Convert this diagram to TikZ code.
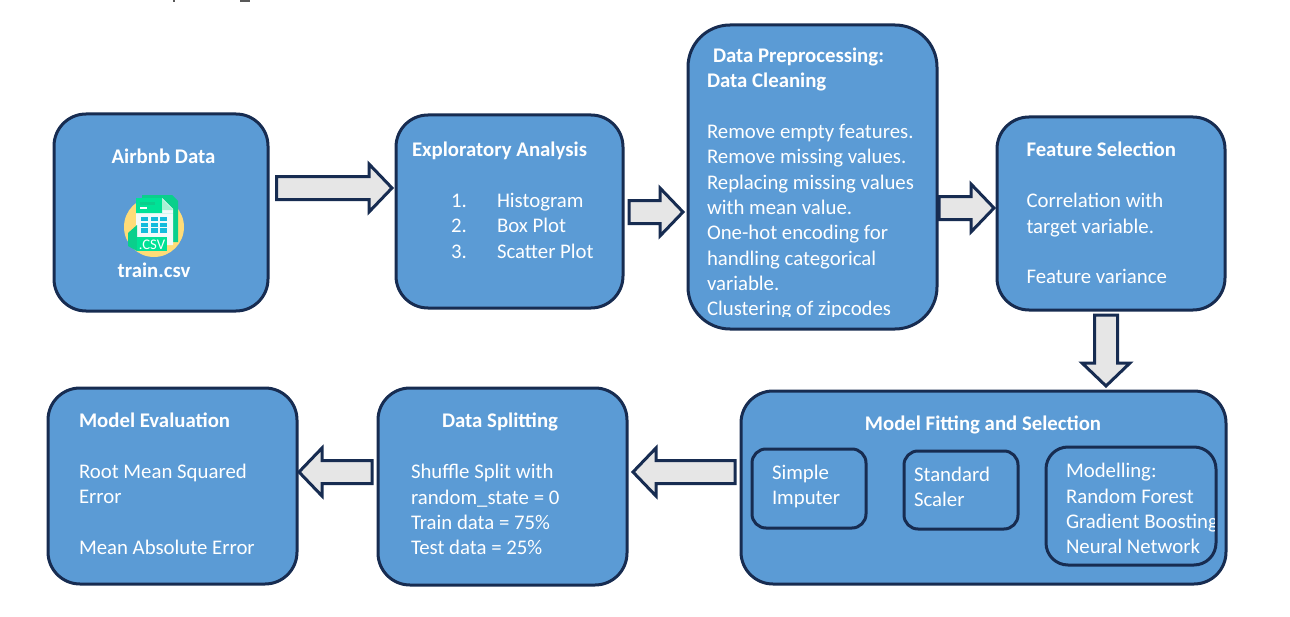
\documentclass[tikz,border=0pt]{standalone}
\usepackage{fontspec}
\setmainfont{Carlito}
\usetikzlibrary{calc}
\def\px{0.75pt}
\definecolor{boxblue}{HTML}{5B9BD5}
\definecolor{navy}{HTML}{172C51}
\definecolor{arrowgray}{HTML}{E6E6E6}
\definecolor{iconyellow}{HTML}{FFDC78}
\definecolor{icongreen}{HTML}{00E296}
\definecolor{icongreenb}{HTML}{0ACF8C}
\definecolor{iconfold}{HTML}{A8F2D4}
\definecolor{iconcell}{HTML}{14BCDC}
\definecolor{iconpage}{HTML}{F2FAFA}
\tikzset{
  flowbox/.style={draw=navy,fill=boxblue,line width=3*\px,inner sep=0pt,outer sep=0pt},
  txt/.style={text=white,inner sep=0pt,outer sep=0pt,anchor=base west,align=left,yshift=-0.7*\px,
    font=\fontsize{15.6pt}{19pt}\selectfont},
  hd/.style={txt,font=\fontsize{15.6pt}{19pt}\selectfont\bfseries},
  hdc/.style={hd,anchor=base,align=center},
  blockarrow/.style={draw=navy,fill=arrowgray,line width=3*\px,line join=miter,miter limit=10,
    to path={
      coordinate (hb) at ($(\tikztotarget)!23*\px!(\tikztostart)$)
      -- ($(\tikztostart)!11.5*\px!90:(\tikztotarget)$)
      -- ($(hb)!11.5*\px!90:(\tikztotarget)$)
      -- ($(hb)!24*\px!90:(\tikztotarget)$)
      -- (\tikztotarget)
      -- ($(hb)!24*\px!-90:(\tikztotarget)$)
      -- ($(hb)!11.5*\px!-90:(\tikztotarget)$)
      -- ($(\tikztostart)!11.5*\px!-90:(\tikztotarget)$)
      -- cycle}}
}
% name, x1, y1, x2, y2, corner radius
\newcommand{\flowrect}[6]{%
  \node[flowbox,rounded corners=#6*\px,minimum width={(#4-#2)*\px},minimum height={(#5-#3)*\px}]
    (#1) at ({(#2+#4)/2},{(#3+#5)/2}) {};}
\begin{document}
\begin{tikzpicture}[x=0.75pt,y=-0.75pt]
\useasboundingbox (0,0) rectangle (1290,617);
\fill[white] (0,0) rectangle (1290,617);
% remains of the cropped line at the top edge
\fill[black!65] (173,0) rectangle (175,2.5);
\fill[black!65] (240,0) rectangle (250,2);

% boxes
\flowrect{air}{54}{114}{268}{311}{32}
\flowrect{eda}{396}{115}{623}{308}{32}
\flowrect{pre}{688}{25}{937}{329}{42}
\flowrect{fsel}{997}{117}{1225}{310}{32}
\flowrect{fit}{741}{391}{1226}{584}{32}
\flowrect{spl}{378}{388}{627}{585}{32}
\flowrect{eva}{48}{388}{297}{584}{32}
\flowrect{imp}{752}{449}{866}{528}{14}
\flowrect{sca}{904}{451}{1018}{529}{14}
\flowrect{mod}{1046}{447}{1216}{565}{22}

% connector ends
\coordinate (t1) at (276.5,188); \coordinate (h1) at (392,188);
\coordinate (t2) at (629,212);   \coordinate (h2) at (683,212);
\coordinate (t3) at (939,208);   \coordinate (h3) at (994,208);
\coordinate (t4) at (1106,315);  \coordinate (h4) at (1106,386);
\coordinate (t5) at (735,472);   \coordinate (h5) at (633,472);
\coordinate (t6) at (372,472);   \coordinate (h6) at (299,472);
\draw[blockarrow] (t1) to (h1);
\draw[blockarrow] (t2) to (h2);
\draw[blockarrow] (t3) to (h3);
\draw[blockarrow] (t4) to (h4);
\draw[blockarrow] (t5) to (h5);
\draw[blockarrow] (t6) to (h6);

% csv icon
\fill[iconyellow] (154,227) circle[radius=30];
\fill[icongreenb] (142,195) -- (172,195) -- (178,201) -- (178,242) -- (142,242) -- cycle;
\fill[iconpage] (136,198) -- (162,198) -- (173,209) -- (173,245) -- (136,245) -- cycle;
\fill[icongreen] (136,198) -- (162,198) -- (162,213) -- (173,213) -- (136,213) -- cycle;
\fill[iconfold] (162,199) -- (173,210) -- (162,210) -- cycle;
\fill[icongreenb] (128,233) -- (137,225) -- (137,251) -- (128,246) -- cycle;
\fill[icongreenb] (140,202) rectangle (155,204.5);
\fill[white] (140,207) rectangle (147,209);
\foreach \cx in {141,150.5,160}{\foreach \cy in {217,222.8,228.4}{
  \fill[iconcell] (\cx,\cy) rectangle ++(7.4,4.4);}}
\fill[icongreen] (137,237) rectangle (167,251);
\node[text=white,inner sep=0pt,anchor=base,font=\fontsize{11pt}{11pt}\selectfont] (csv) at (152,249) {.CSV};

% texts (a multi-line node is placed by the baseline of its last line)
\node[hdc] (tair) at (163.5,163) {Airbnb Data};
\node[hdc] (ttrain) at (154,277) {train.csv};

\node[hd] (teda) at (412,156) {Exploratory Analysis};
\node[txt] (tn1) at (451,207) {1.};
\node[txt] (tn2) at (451,232) {2.};
\node[txt] (tn3) at (451,257.5) {3.};
\node[txt] (ti1) at (497,207) {Histogram};
\node[txt] (ti2) at (497,232) {Box Plot};
\node[txt] (ti3) at (497,257.5) {Scatter Plot};

\node[hd] (tpre1) at (713,62) {Data Preprocessing:};
\node[hd] (tpre2) at (707,87) {Data Cleaning};
\begin{scope}
\clip (690,100) rectangle (935,316);
\node[txt] (tpre3) at (707,315) {Remove empty features.\\Remove missing values.\\Replacing missing values\\with mean value.\\One-hot encoding for\\handling categorical\\variable.\\Clustering of zipcodes};
\end{scope}

\node[hd] (tfs) at (1026.5,156) {Feature Selection};
\node[txt] (tfs1) at (1026.5,232.5) {Correlation with\\target variable.};
\node[txt] (tfs2) at (1026.5,282.5) {Feature variance};

\node[hdc] (tfit) at (983,430) {Model Fitting and Selection};
\node[txt] (timp) at (772,504) {Simple\\Imputer};
\node[txt] (tsca) at (914,506) {Standard\\Scaler};
\begin{scope}
\clip (1050,450) rectangle (1214,563);
\node[txt] (tmod) at (1066,553) {Modelling:\\Random Forest\\Gradient Boosting\\Neural Network};
\end{scope}

\node[hdc] (tspl) at (500,427) {Data Splitting};
\node[txt] (tspl1) at (411,554) {Shuffle Split with\\random\_state = 0\\Train data = 75\%\\Test data = 25\%};

\node[hd] (teva) at (79,427) {Model Evaluation};
\node[txt] (teva1) at (79,503) {Root Mean Squared\\Error};
\node[txt] (teva2) at (79,554) {Mean Absolute Error};
\end{tikzpicture}
\end{document}
